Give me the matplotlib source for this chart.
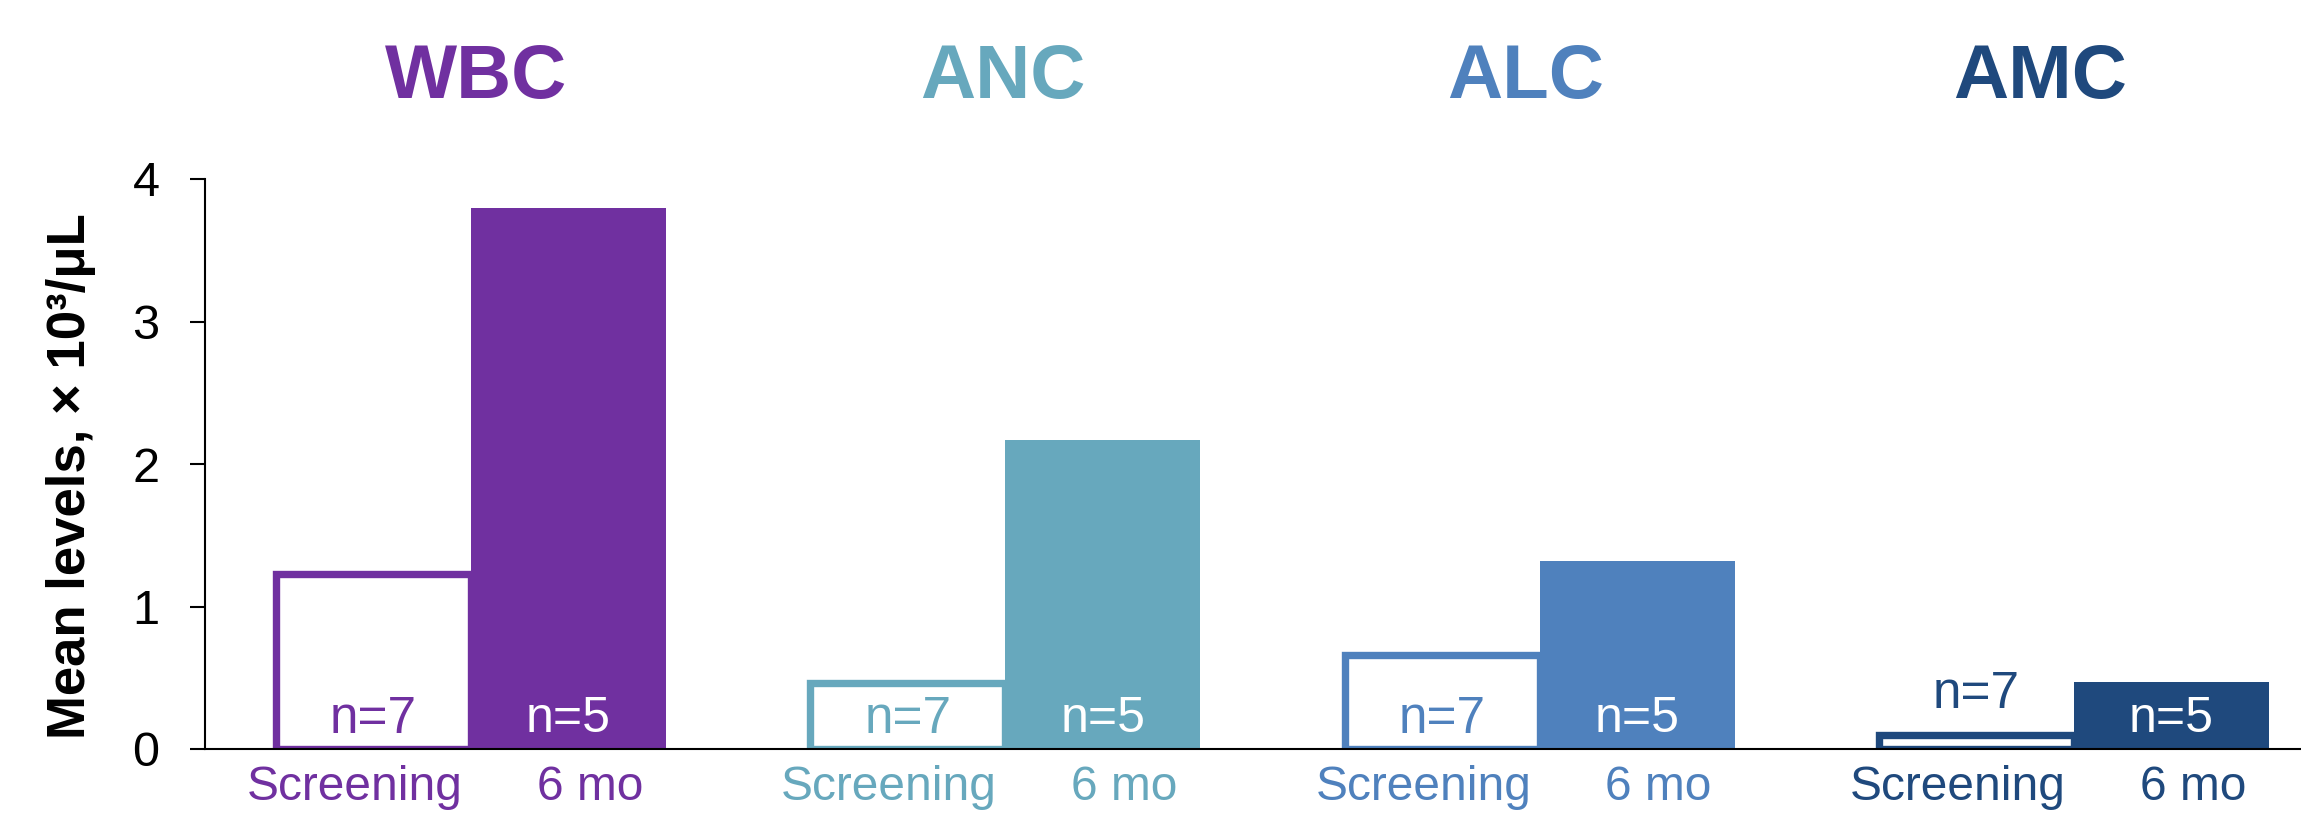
import numpy as np
import matplotlib
matplotlib.use("Agg")
from matplotlib import pyplot as plt

plt.rcParams['font.family'] = ['Liberation Sans', 'DejaVu Sans']

# cell counts, mean levels x10^3/uL
cells = ["WBC", "ANC", "ALC", "AMC"]
colors = ["#7030A0", "#67A8BD", "#4F81BD", "#1F497D"]
screening = [1.23, 0.46, 0.66, 0.10]
six_mo = [3.80, 2.17, 1.32, 0.47]
n_screening = [7, 7, 7, 7]
n_six_mo = [5, 5, 5, 5]
timepoints = ["Screening", "6 mo"]
yticks = [0, 1, 2, 3, 4]

# layout
W, H = 2301, 819
width = 0.365
title_shift = [0.01, -0.005, -0.026, -0.064]

fig = plt.figure(figsize=(W / 100, H / 100), dpi=100)
ax = fig.add_axes([205 / W, 70 / H, 1 - 205 / W, 570 / H])

x = np.arange(len(cells))
for i, c in enumerate(colors):
    ax.bar(x[i] + width / 2, six_mo[i], width, color=c, zorder=2)
    ax.bar(x[i] - width / 2, screening[i], width, facecolor="white",
           edgecolor=c, linewidth=5.3, zorder=3)

    # n labels: inside the bar, or above it when the bar is too short
    y7 = 0.11 if screening[i] > 0.3 else screening[i] + 0.19
    ax.text(x[i] - width / 2, y7, "n=%d" % n_screening[i], color=c,
            fontsize=37, ha="center", va="baseline", zorder=4)
    ax.text(x[i] + width / 2, 0.12, "n=%d" % n_six_mo[i], color="white",
            fontsize=36, ha="center", va="baseline", zorder=4)

    # time point labels under the axis
    ax.text(x[i] - width / 2 - 0.035, -0.36, timepoints[0], color=c,
            fontsize=34.5, ha="center", va="baseline", clip_on=False)
    ax.text(x[i] + width / 2 + 0.04, -0.36, timepoints[1], color=c,
            fontsize=34.5, ha="center", va="baseline", clip_on=False)

    # panel headings
    ax.text(x[i] + title_shift[i], 4.0 + 100 / 142.5, cells[i], color=c,
            fontsize=55, fontweight="bold", ha="center", va="center",
            clip_on=False)

ax.set_xlim(-0.498, 3.425)
ax.set_ylim(0, 4)
ax.set_yticks(yticks)
ax.set_xticks([])
ax.tick_params(axis="y", direction="out", length=10.8, width=1.5,
               labelsize=35, pad=22)
for s in ["top", "right"]:
    ax.spines[s].set_visible(False)
ax.spines["left"].set_linewidth(1.5)
ax.spines["bottom"].set_linewidth(1.5)
ax.spines["bottom"].set_zorder(5)

fig.text(71 / W, 1 - 476 / H, "Mean levels, × 10³/μL", rotation=90,
         fontsize=38, fontweight="bold", ha="center", va="center")

fig.savefig("out.png", dpi=100)
